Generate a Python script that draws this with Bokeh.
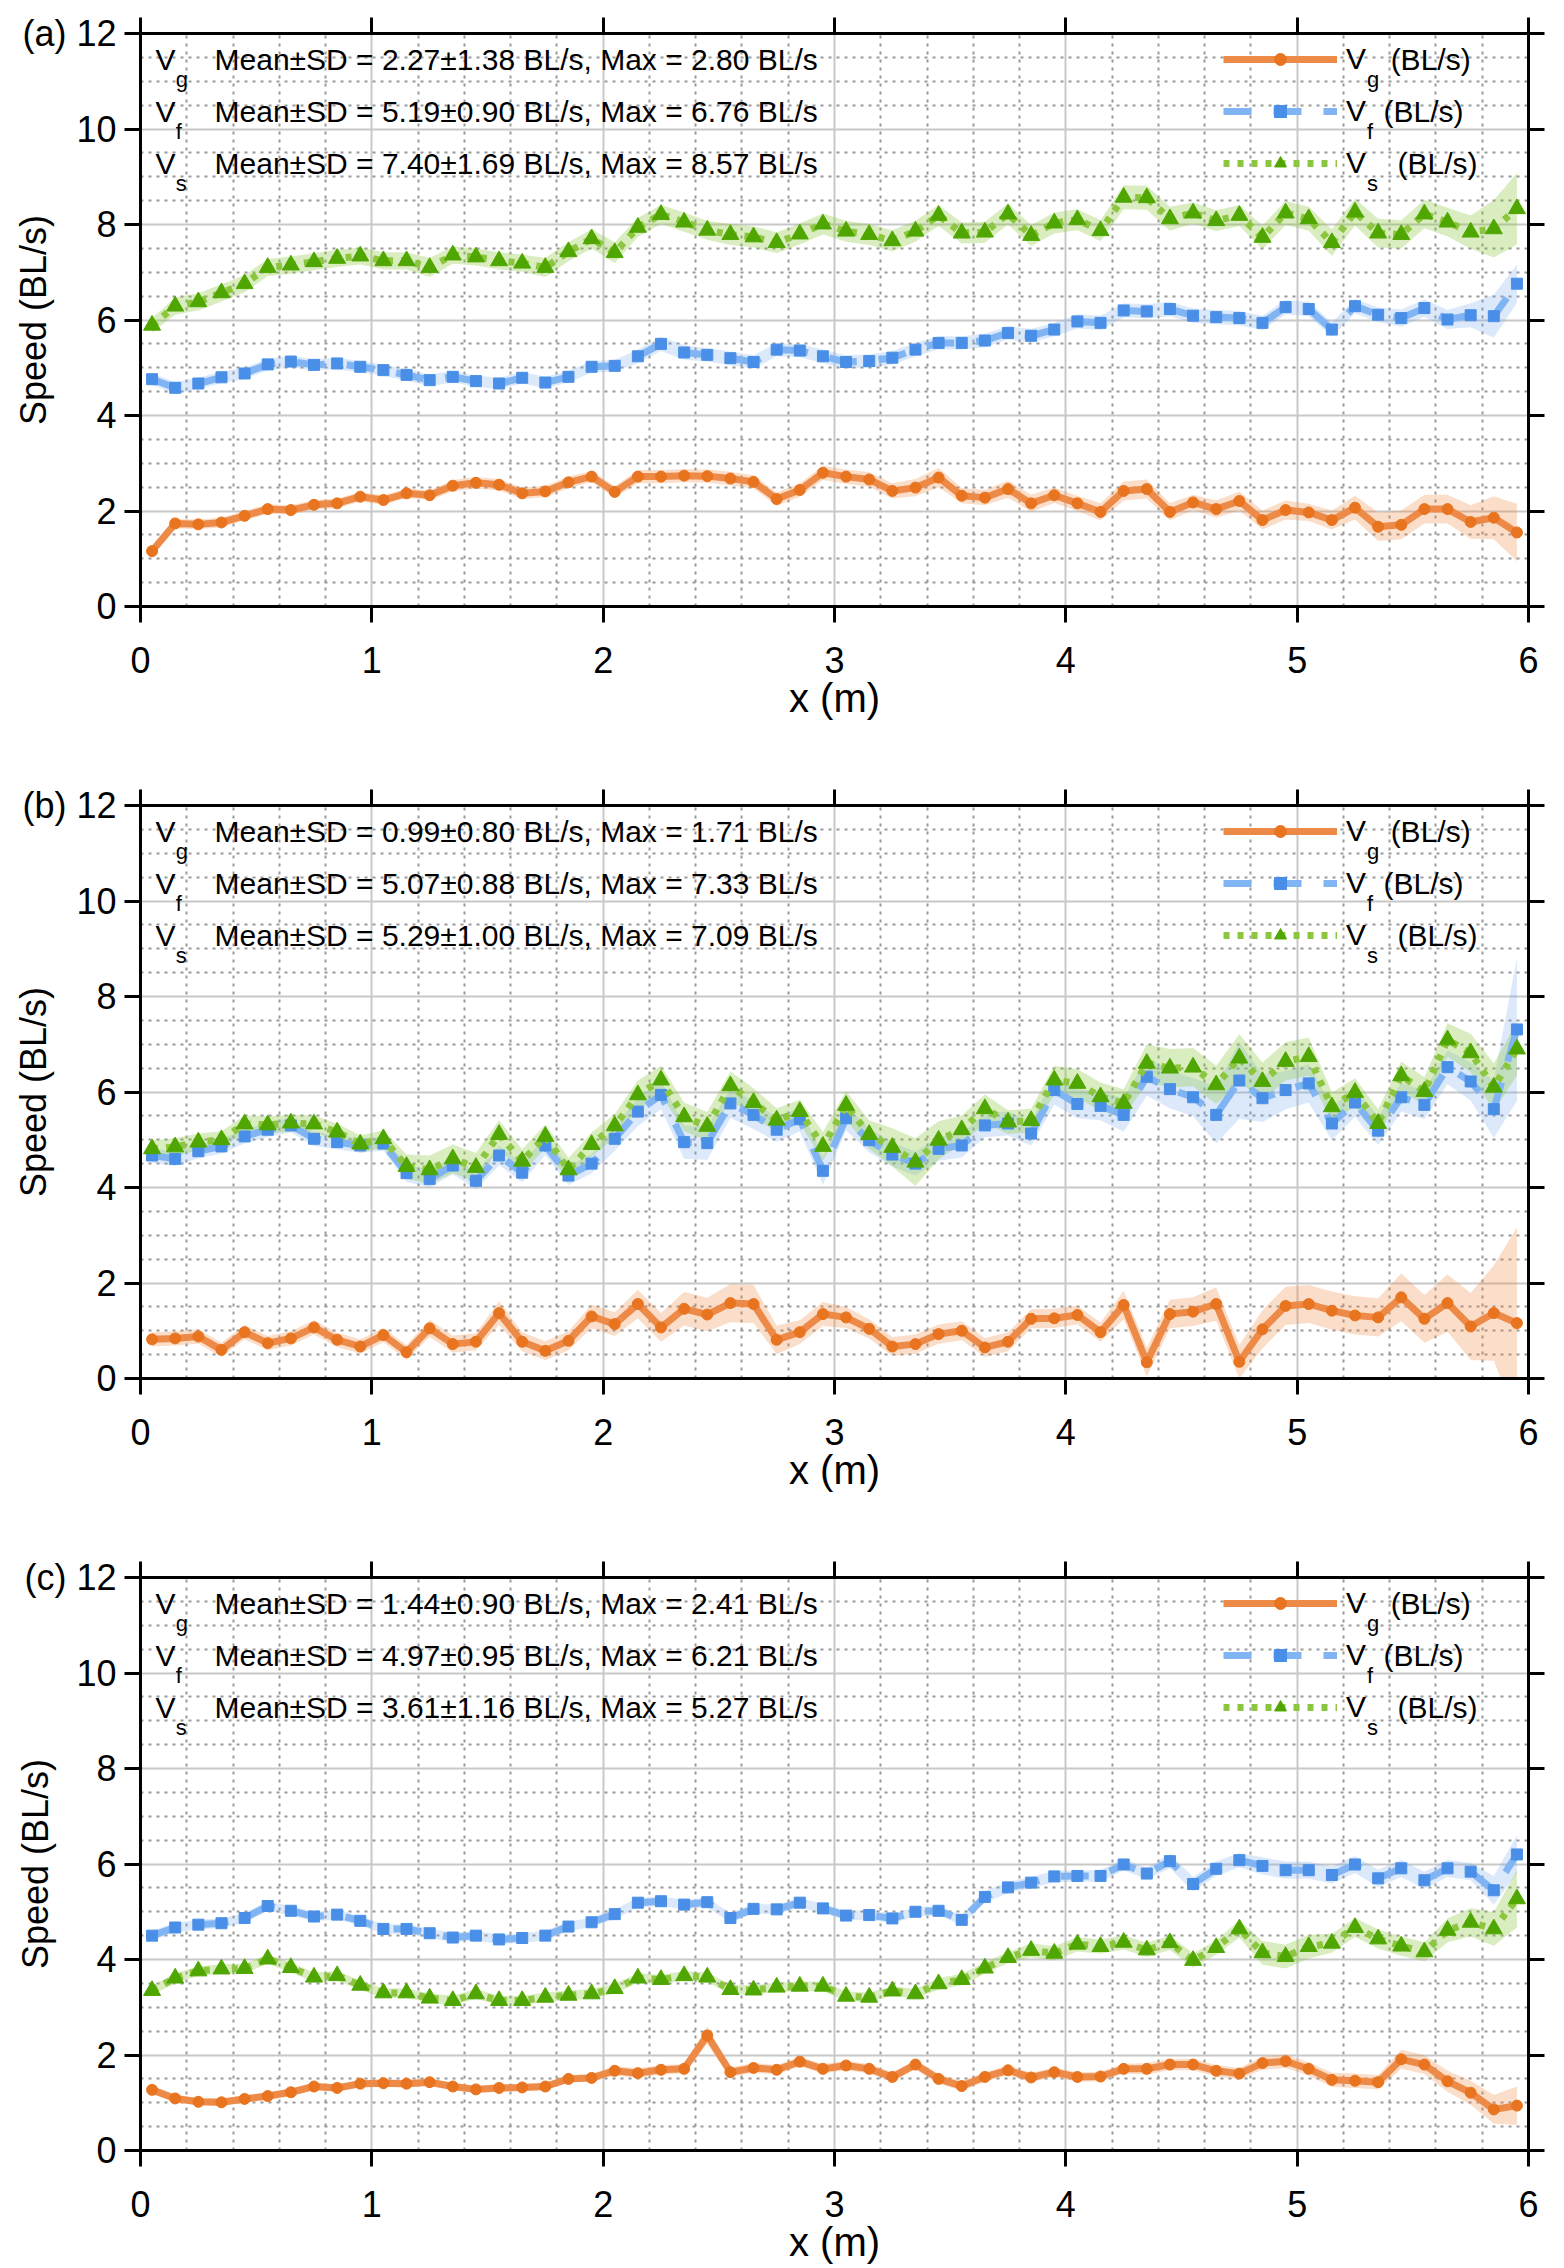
from bokeh.plotting import figure
from bokeh.models import ColumnDataSource, FixedTicker, LinearAxis, Legend, LegendItem, Label
from bokeh.layouts import column
from bokeh.embed import file_html
from bokeh.resources import INLINE

FONT = "Liberation Sans"

# ---------------- data ----------------
x_pos = [0.05, 0.15, 0.25, 0.35, 0.45, 0.55, 0.65, 0.75, 0.85, 0.95,
         1.05, 1.15, 1.25, 1.35, 1.45, 1.55, 1.65, 1.75, 1.85, 1.95,
         2.05, 2.15, 2.25, 2.35, 2.45, 2.55, 2.65, 2.75, 2.85, 2.95,
         3.05, 3.15, 3.25, 3.35, 3.45, 3.55, 3.65, 3.75, 3.85, 3.95,
         4.05, 4.15, 4.25, 4.35, 4.45, 4.55, 4.65, 4.75, 4.85, 4.95,
         5.05, 5.15, 5.25, 5.35, 5.45, 5.55, 5.65, 5.75, 5.85, 5.95]

# Panel (a)
a_vg = [1.16, 1.74, 1.72, 1.76, 1.90, 2.04, 2.02, 2.13, 2.16, 2.30,
        2.23, 2.37, 2.33, 2.53, 2.59, 2.55, 2.37, 2.41, 2.60, 2.72,
        2.40, 2.72, 2.72, 2.74, 2.73, 2.68, 2.61, 2.25, 2.44, 2.80,
        2.72, 2.66, 2.42, 2.49, 2.70, 2.32, 2.28, 2.46, 2.16, 2.33,
        2.16, 1.98, 2.42, 2.46, 1.98, 2.18, 2.04, 2.21, 1.81, 2.02,
        1.97, 1.81, 2.07, 1.67, 1.71, 2.04, 2.04, 1.77, 1.86, 1.55]
a_vf = [4.76, 4.58, 4.67, 4.80, 4.88, 5.07, 5.13, 5.06, 5.09, 5.02,
        4.95, 4.85, 4.74, 4.81, 4.72, 4.67, 4.79, 4.69, 4.81, 5.02,
        5.04, 5.24, 5.50, 5.32, 5.27, 5.20, 5.12, 5.38, 5.36, 5.24,
        5.12, 5.14, 5.21, 5.38, 5.52, 5.52, 5.57, 5.73, 5.67, 5.80,
        5.97, 5.94, 6.20, 6.18, 6.23, 6.09, 6.06, 6.04, 5.94, 6.27,
        6.23, 5.80, 6.29, 6.11, 6.04, 6.25, 6.01, 6.10, 6.08, 6.76]
a_vs = [5.89, 6.29, 6.38, 6.57, 6.76, 7.10, 7.15, 7.22, 7.29, 7.34,
        7.24, 7.24, 7.10, 7.36, 7.32, 7.24, 7.19, 7.10, 7.43, 7.70,
        7.41, 7.94, 8.21, 8.05, 7.88, 7.79, 7.74, 7.62, 7.80, 8.01,
        7.86, 7.79, 7.66, 7.86, 8.19, 7.82, 7.84, 8.22, 7.77, 8.03,
        8.10, 7.87, 8.57, 8.56, 8.12, 8.24, 8.08, 8.19, 7.73, 8.24,
        8.12, 7.62, 8.26, 7.82, 7.79, 8.22, 8.05, 7.84, 7.91, 8.33]
a_vg_sd = [0.10, 0.10, 0.10, 0.10, 0.10, 0.10, 0.10, 0.10, 0.10, 0.10,
           0.10, 0.10, 0.10, 0.12, 0.12, 0.12, 0.12, 0.12, 0.12, 0.12,
           0.12, 0.14, 0.14, 0.14, 0.14, 0.14, 0.14, 0.14, 0.14, 0.15,
           0.15, 0.15, 0.16, 0.18, 0.20, 0.16, 0.16, 0.18, 0.18, 0.16,
           0.16, 0.18, 0.20, 0.20, 0.18, 0.16, 0.18, 0.20, 0.20, 0.20,
           0.18, 0.20, 0.25, 0.30, 0.30, 0.30, 0.30, 0.35, 0.45, 0.60]
a_vf_sd = [0.12, 0.12, 0.12, 0.12, 0.12, 0.12, 0.12, 0.12, 0.12, 0.12,
           0.12, 0.12, 0.12, 0.12, 0.12, 0.12, 0.12, 0.12, 0.12, 0.12,
           0.12, 0.14, 0.15, 0.15, 0.14, 0.14, 0.14, 0.14, 0.14, 0.14,
           0.14, 0.14, 0.14, 0.14, 0.14, 0.14, 0.14, 0.14, 0.14, 0.14,
           0.15, 0.15, 0.15, 0.15, 0.15, 0.15, 0.15, 0.15, 0.15, 0.15,
           0.15, 0.15, 0.15, 0.15, 0.18, 0.18, 0.20, 0.25, 0.45, 0.40]
a_vs_sd = [0.15, 0.18, 0.18, 0.18, 0.18, 0.18, 0.18, 0.18, 0.18, 0.18,
           0.18, 0.18, 0.20, 0.18, 0.18, 0.18, 0.18, 0.20, 0.20, 0.20,
           0.22, 0.20, 0.20, 0.20, 0.20, 0.22, 0.22, 0.22, 0.22, 0.22,
           0.22, 0.22, 0.22, 0.22, 0.22, 0.22, 0.22, 0.22, 0.22, 0.22,
           0.22, 0.22, 0.25, 0.25, 0.25, 0.22, 0.22, 0.22, 0.25, 0.25,
           0.25, 0.28, 0.28, 0.30, 0.30, 0.30, 0.30, 0.35, 0.60, 0.75]

# Panel (b)
b_vg = [0.82, 0.84, 0.88, 0.60, 0.97, 0.74, 0.84, 1.07, 0.81, 0.67,
        0.91, 0.55, 1.05, 0.72, 0.77, 1.37, 0.77, 0.58, 0.79, 1.30,
        1.14, 1.56, 1.07, 1.46, 1.34, 1.58, 1.56, 0.81, 0.97, 1.35,
        1.28, 1.04, 0.67, 0.72, 0.93, 1.00, 0.65, 0.77, 1.25, 1.26,
        1.33, 0.97, 1.54, 0.34, 1.35, 1.40, 1.56, 0.35, 1.03, 1.52,
        1.56, 1.42, 1.32, 1.28, 1.70, 1.25, 1.58, 1.09, 1.37, 1.16]
b_vf = [4.67, 4.60, 4.76, 4.86, 5.07, 5.21, 5.30, 5.02, 4.95, 4.88,
        4.92, 4.30, 4.18, 4.46, 4.14, 4.67, 4.31, 4.88, 4.25, 4.50,
        5.02, 5.59, 5.94, 4.95, 4.93, 5.76, 5.52, 5.21, 5.43, 4.35,
        5.45, 4.99, 4.69, 4.50, 4.81, 4.88, 5.30, 5.34, 5.13, 6.04,
        5.75, 5.71, 5.52, 6.32, 6.06, 5.89, 5.52, 6.24, 5.87, 6.04,
        6.18, 5.34, 5.78, 5.19, 5.89, 5.73, 6.52, 6.22, 5.64, 7.31]
b_vs = [4.81, 4.85, 4.95, 5.00, 5.33, 5.31, 5.35, 5.33, 5.16, 4.91,
        5.02, 4.44, 4.37, 4.60, 4.42, 5.11, 4.55, 5.07, 4.37, 4.90,
        5.29, 5.94, 6.25, 5.48, 5.28, 6.13, 5.78, 5.41, 5.59, 4.86,
        5.72, 5.11, 4.84, 4.53, 4.99, 5.21, 5.65, 5.37, 5.40, 6.25,
        6.18, 5.90, 5.76, 6.60, 6.50, 6.52, 6.15, 6.71, 6.22, 6.64,
        6.74, 5.69, 5.99, 5.34, 6.34, 6.01, 7.09, 6.82, 6.10, 6.90]
b_vg_sd = [0.15, 0.15, 0.15, 0.15, 0.15, 0.15, 0.15, 0.15, 0.15, 0.15,
           0.15, 0.15, 0.18, 0.18, 0.18, 0.25, 0.20, 0.20, 0.20, 0.25,
           0.25, 0.30, 0.30, 0.35, 0.35, 0.40, 0.40, 0.30, 0.25, 0.25,
           0.22, 0.20, 0.20, 0.20, 0.20, 0.20, 0.20, 0.20, 0.20, 0.20,
           0.20, 0.20, 0.30, 0.30, 0.30, 0.30, 0.35, 0.35, 0.40, 0.40,
           0.40, 0.40, 0.40, 0.40, 0.50, 0.50, 0.60, 0.70, 1.00, 2.00]
b_vf_sd = [0.15, 0.15, 0.15, 0.15, 0.15, 0.15, 0.15, 0.15, 0.15, 0.15,
           0.15, 0.18, 0.18, 0.18, 0.18, 0.20, 0.20, 0.20, 0.20, 0.20,
           0.25, 0.30, 0.30, 0.35, 0.35, 0.30, 0.30, 0.25, 0.25, 0.30,
           0.25, 0.25, 0.25, 0.25, 0.25, 0.25, 0.25, 0.25, 0.25, 0.30,
           0.30, 0.30, 0.35, 0.40, 0.40, 0.40, 0.60, 0.80, 0.50, 0.40,
           0.40, 0.35, 0.30, 0.30, 0.30, 0.30, 0.35, 0.40, 0.60, 1.50]
b_vs_sd = [0.18, 0.18, 0.18, 0.18, 0.18, 0.18, 0.18, 0.18, 0.18, 0.18,
           0.18, 0.25, 0.30, 0.30, 0.30, 0.30, 0.25, 0.25, 0.25, 0.25,
           0.25, 0.30, 0.30, 0.30, 0.30, 0.30, 0.30, 0.25, 0.25, 0.30,
           0.30, 0.30, 0.40, 0.50, 0.40, 0.30, 0.30, 0.25, 0.25, 0.30,
           0.30, 0.30, 0.30, 0.40, 0.40, 0.40, 0.40, 0.50, 0.40, 0.40,
           0.40, 0.30, 0.30, 0.30, 0.30, 0.30, 0.35, 0.40, 0.50, 0.55]

# Panel (c)
c_vg = [1.27, 1.09, 1.02, 1.01, 1.08, 1.14, 1.22, 1.34, 1.31, 1.40,
        1.41, 1.40, 1.43, 1.34, 1.28, 1.31, 1.32, 1.34, 1.50, 1.52,
        1.67, 1.62, 1.69, 1.71, 2.41, 1.64, 1.73, 1.69, 1.86, 1.71,
        1.78, 1.71, 1.54, 1.80, 1.50, 1.35, 1.54, 1.68, 1.53, 1.64,
        1.54, 1.55, 1.71, 1.71, 1.80, 1.80, 1.67, 1.61, 1.83, 1.87,
        1.71, 1.48, 1.46, 1.43, 1.91, 1.80, 1.45, 1.21, 0.86, 0.94]
c_vf = [4.50, 4.67, 4.73, 4.76, 4.87, 5.12, 5.02, 4.90, 4.94, 4.81,
        4.64, 4.64, 4.55, 4.46, 4.50, 4.42, 4.45, 4.50, 4.69, 4.78,
        4.95, 5.19, 5.22, 5.15, 5.20, 4.87, 5.06, 5.05, 5.19, 5.07,
        4.92, 4.93, 4.86, 5.00, 5.02, 4.83, 5.31, 5.51, 5.61, 5.74,
        5.75, 5.75, 5.99, 5.80, 6.06, 5.58, 5.90, 6.08, 5.96, 5.87,
        5.87, 5.77, 5.99, 5.70, 5.91, 5.66, 5.91, 5.84, 5.45, 6.20]
c_vs = [3.35, 3.61, 3.76, 3.80, 3.81, 4.01, 3.83, 3.63, 3.66, 3.46,
        3.30, 3.30, 3.19, 3.14, 3.28, 3.14, 3.14, 3.21, 3.25, 3.28,
        3.39, 3.61, 3.58, 3.66, 3.63, 3.37, 3.36, 3.42, 3.44, 3.44,
        3.23, 3.21, 3.34, 3.28, 3.49, 3.58, 3.82, 4.04, 4.19, 4.13,
        4.32, 4.27, 4.36, 4.20, 4.35, 3.98, 4.25, 4.64, 4.14, 4.06,
        4.27, 4.34, 4.67, 4.43, 4.28, 4.16, 4.61, 4.78, 4.64, 5.27]
c_vg_sd = [0.08, 0.08, 0.08, 0.08, 0.08, 0.08, 0.08, 0.08, 0.08, 0.08,
           0.08, 0.08, 0.08, 0.08, 0.08, 0.08, 0.08, 0.08, 0.08, 0.08,
           0.10, 0.10, 0.10, 0.10, 0.18, 0.10, 0.10, 0.10, 0.10, 0.10,
           0.10, 0.10, 0.10, 0.10, 0.10, 0.10, 0.10, 0.10, 0.10, 0.10,
           0.10, 0.10, 0.10, 0.12, 0.12, 0.12, 0.12, 0.12, 0.14, 0.14,
           0.14, 0.15, 0.15, 0.15, 0.20, 0.20, 0.22, 0.25, 0.30, 0.40]
c_vf_sd = [0.10, 0.10, 0.10, 0.10, 0.10, 0.10, 0.10, 0.10, 0.10, 0.10,
           0.10, 0.10, 0.10, 0.10, 0.10, 0.10, 0.10, 0.10, 0.10, 0.10,
           0.10, 0.10, 0.10, 0.10, 0.10, 0.10, 0.10, 0.10, 0.10, 0.10,
           0.10, 0.10, 0.10, 0.10, 0.10, 0.10, 0.12, 0.12, 0.12, 0.12,
           0.12, 0.12, 0.12, 0.12, 0.15, 0.15, 0.15, 0.15, 0.18, 0.18,
           0.18, 0.18, 0.18, 0.18, 0.18, 0.18, 0.18, 0.18, 0.30, 0.40]
c_vs_sd = [0.10, 0.10, 0.10, 0.10, 0.10, 0.10, 0.10, 0.10, 0.10, 0.10,
           0.10, 0.10, 0.10, 0.10, 0.10, 0.10, 0.10, 0.10, 0.10, 0.10,
           0.10, 0.10, 0.10, 0.10, 0.10, 0.10, 0.10, 0.10, 0.10, 0.10,
           0.10, 0.10, 0.10, 0.10, 0.12, 0.12, 0.12, 0.12, 0.15, 0.15,
           0.15, 0.15, 0.15, 0.15, 0.15, 0.15, 0.15, 0.18, 0.25, 0.25,
           0.25, 0.20, 0.20, 0.20, 0.20, 0.20, 0.25, 0.30, 0.35, 0.60]

# summary statistics printed on each panel: (mean, sd, max) for Vg, Vf, Vs
a_stats = [(2.27, 1.38, 2.80), (5.19, 0.90, 6.76), (7.40, 1.69, 8.57)]
b_stats = [(0.99, 0.80, 1.71), (5.07, 0.88, 7.33), (5.29, 1.00, 7.09)]
c_stats = [(1.44, 0.90, 2.41), (4.97, 0.95, 6.21), (3.61, 1.16, 5.27)]

panel_tags = ["(a)", "(b)", "(c)"]
subscripts = ["g", "f", "s"]
x_ticks = [0, 1, 2, 3, 4, 5, 6]
y_ticks = [0, 2, 4, 6, 8, 10, 12]

# ---------------- styles ----------------
STYLES = [
    dict(line="#EE8A48", mark="#E8741F", band="#F08A3C", band_alpha=0.28,
         dash="solid", marker="circle", size=11),
    dict(line="#80B4F2", mark="#4A8FE7", band="#6FA8F0", band_alpha=0.25,
         dash="28 22", marker="square", size=11),
    dict(line="#8CC63E", mark="#4FA600", band="#8CC63E", band_alpha=0.32,
         dash="6 8", marker="triangle", size=17),
]

X_MINOR = [i / 5 for i in range(31) if i % 5 != 0]
Y_MINOR = [i / 2 for i in range(25) if i % 4 != 0]
ROW_Y = [11.455, 10.367, 9.277]
FRAME_H = 573
TOP = 33


def make_panel(tag, series, sds, stats, height):
    border_bottom = height - TOP - FRAME_H
    p = figure(width=1560, height=height, x_range=(0, 6), y_range=(0, 12),
               output_backend="svg", toolbar_location=None,
               min_border_left=140, min_border_right=32,
               min_border_top=TOP, min_border_bottom=border_bottom)
    p.outline_line_color = None
    xa = p.xaxis[0]
    ya = p.yaxis[0]
    xt = FixedTicker(ticks=x_ticks, minor_ticks=X_MINOR)
    yt = FixedTicker(ticks=y_ticks, minor_ticks=Y_MINOR)
    xa.ticker = xt
    ya.ticker = yt
    p.xgrid.ticker = xt
    p.ygrid.ticker = yt
    for g in (p.xgrid, p.ygrid):
        g.grid_line_color = "#c8c8c8"
        g.grid_line_width = 2
        g.minor_grid_line_color = "#999999"
        g.minor_grid_line_width = 2
        g.minor_grid_line_dash = "3 5"

    top = LinearAxis(ticker=xt)
    right = LinearAxis(ticker=yt)
    for ax in (xa, ya, top, right):
        ax.axis_line_width = 3
        ax.axis_line_color = "black"
        ax.major_tick_out = 16
        ax.major_tick_in = 0
        ax.major_tick_line_width = 3
        ax.major_tick_line_color = "black"
        ax.minor_tick_out = 0
        ax.minor_tick_in = 0
        ax.major_label_text_font = FONT
        ax.major_label_text_color = "black"
    for ax in (top, right):
        ax.major_label_text_color = None
        ax.major_label_text_font_size = "1px"
        ax.major_label_standoff = 0
    p.add_layout(top, "above")
    p.add_layout(right, "right")

    xa.major_label_text_font_size = "36px"
    ya.major_label_text_font_size = "36px"
    xa.major_label_standoff = 24
    ya.major_label_standoff = 8
    ya.major_label_overrides = {12: tag + " 12"}
    xa.axis_label = "x (m)"
    ya.axis_label = "Speed (BL/s)"
    for ax, fs in ((xa, "40px"), (ya, "36px")):
        ax.axis_label_text_font = FONT
        ax.axis_label_text_font_size = fs
        ax.axis_label_text_font_style = "normal"
        ax.axis_label_text_color = "black"
    xa.axis_label_standoff = 0
    ya.axis_label_standoff = -35

    sources = []
    for vals, sd in zip(series, sds):
        sources.append(ColumnDataSource(dict(
            x=x_pos, y=vals,
            lo=[v - s for v, s in zip(vals, sd)],
            hi=[v + s for v, s in zip(vals, sd)])))
    for src, st in zip(sources, STYLES):
        p.varea(x="x", y1="lo", y2="hi", source=src,
                fill_color=st["band"], fill_alpha=st["band_alpha"])
    items = []
    for src, st in zip(sources, STYLES):
        lr = p.line("x", "y", source=src, line_color=st["line"], line_width=7,
                    line_dash=st["dash"])
        sr = p.scatter("x", "y", source=src, marker=st["marker"], size=st["size"],
                       fill_color=st["mark"], line_color=st["mark"])
        items.append(LegendItem(label="V", renderers=[lr, sr]))

    legend = Legend(items=items, location=(1083, FRAME_H - 156),
                    glyph_width=114, glyph_height=30, label_height=52,
                    label_standoff=9, spacing=0, padding=0, margin=0,
                    border_line_color=None, background_fill_alpha=0,
                    label_text_font=FONT, label_text_font_size="30px",
                    label_text_color="black")
    p.add_layout(legend)

    leg_unit_x = [5.404, 5.373, 5.434]
    for i, (sub, (m, s, mx)) in enumerate(zip(subscripts, stats)):
        yy = ROW_Y[i]
        p.add_layout(Label(x=0.065, y=yy, text="V", text_font=FONT,
                           text_font_size="30px", text_baseline="middle",
                           text_color="black"))
        p.add_layout(Label(x=0.152, y=yy - 0.42, text=sub, text_font=FONT,
                           text_font_size="22px", text_baseline="middle",
                           text_color="black"))
        p.add_layout(Label(x=0.32, y=yy,
                           text=f"Mean±SD = {m:.2f}±{s:.2f} BL/s, Max = {mx:.2f} BL/s",
                           text_font=FONT, text_font_size="30px",
                           text_baseline="middle", text_color="black"))
        p.add_layout(Label(x=5.302, y=yy - 0.42, text=sub, text_font=FONT,
                           text_font_size="22px", text_baseline="middle",
                           text_color="black"))
        p.add_layout(Label(x=leg_unit_x[i], y=yy, text="(BL/s)", text_font=FONT,
                           text_font_size="30px", text_baseline="middle",
                           text_color="black"))
    return p


pa = make_panel(panel_tags[0], [a_vg, a_vf, a_vs], [a_vg_sd, a_vf_sd, a_vs_sd],
                a_stats, 772)
pb = make_panel(panel_tags[1], [b_vg, b_vf, b_vs], [b_vg_sd, b_vf_sd, b_vs_sd],
                b_stats, 772)
pc = make_panel(panel_tags[2], [c_vg, c_vf, c_vs], [c_vg_sd, c_vf_sd, c_vs_sd],
                c_stats, 724)

layout = column(pa, pb, pc, spacing=0)
open("out.html", "w").write(file_html(layout, INLINE))
